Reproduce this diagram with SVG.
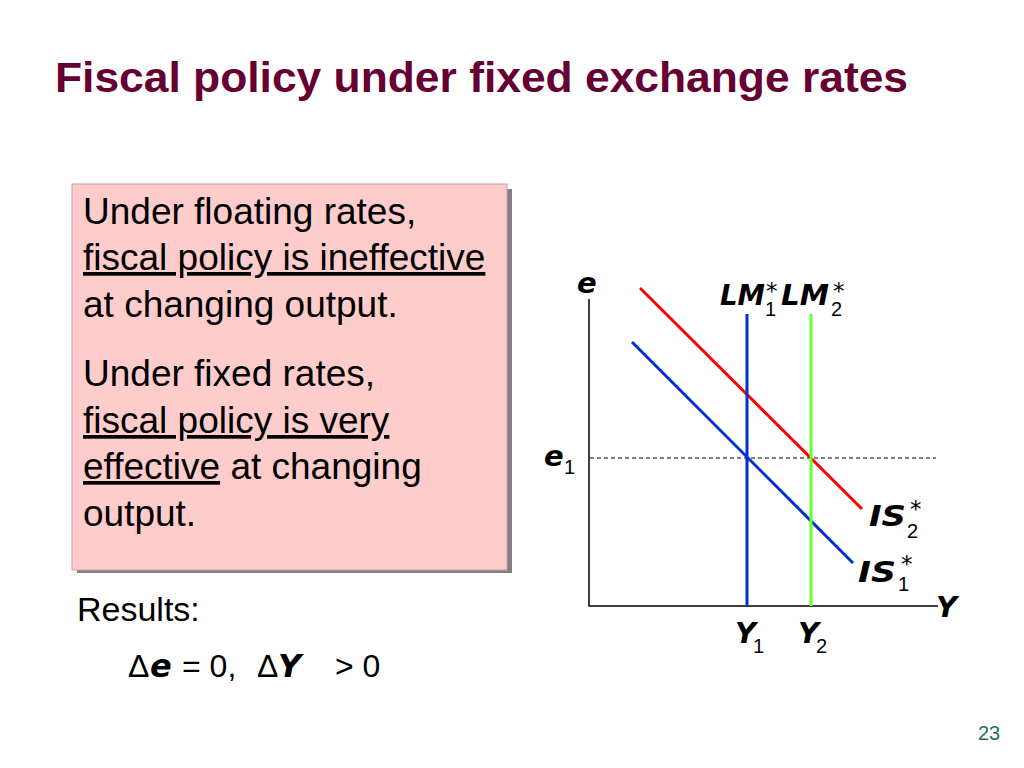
<svg xmlns="http://www.w3.org/2000/svg" width="1024" height="768" viewBox="0 0 1024 768">
<style>
.title{font-family:"Liberation Sans",Arial,sans-serif;font-weight:bold;font-size:42px;fill:#660033}
.body{font-family:"Liberation Sans",Arial,sans-serif;font-size:37px;fill:#000}
.res{font-family:"Liberation Sans",Arial,sans-serif;font-size:32px;fill:#000}
.bi{font-family:"DejaVu Sans",Verdana,sans-serif;font-weight:bold;font-style:italic;font-size:32px}
.u{text-decoration:underline}
.lab{font-family:"DejaVu Sans",Verdana,sans-serif;font-weight:bold;font-style:italic;font-size:29px;fill:#000}
.sub{font-family:"Liberation Sans",Arial,sans-serif;font-size:20px;fill:#000}
.sup{font-family:"DejaVu Sans",Verdana,sans-serif;font-size:23px;fill:#000}
.ax{stroke:#000;stroke-width:1.5;fill:none}
.curve{stroke-width:3;fill:none}
</style>
<rect width="1024" height="768" fill="#fff"/>
<g id="title"><text class="title" x="55" y="92" textLength="853" lengthAdjust="spacingAndGlyphs">Fiscal policy under fixed exchange rates</text></g>
<g id="textbox">
<rect x="77" y="189" width="435" height="384" fill="#808080"/>
<rect x="72" y="184" width="435" height="386" fill="#FFCCCC" stroke="#c8a0a0" stroke-width="1"/>
<text class="body" x="83" y="224">Under floating rates,</text>
<text class="body" x="83" y="270"><tspan class="u">fiscal policy is ineffective</tspan></text>
<text class="body" x="83" y="317">at changing output.</text>
<text class="body" x="83" y="386">Under fixed rates,</text>
<text class="body" x="83" y="433"><tspan class="u">fiscal policy is very</tspan></text>
<text class="body" x="83" y="479"><tspan class="u">effective</tspan> at changing</text>
<text class="body" x="83" y="526">output.</text>
</g>
<g id="results">
<text class="res" x="77" y="621" style="font-size:34px">Results:</text>
<text class="res" x="128" y="677">Δ</text>
<text class="res bi" x="150" y="677">e</text>
<text class="res" x="182" y="677">= 0,</text>
<text class="res" x="257" y="677">Δ</text>
<text class="res bi" x="278" y="677">Y</text>
<text class="res" x="335" y="677">&gt; 0</text>
</g>
<g id="connectors">
<path class="ax" d="M589,299 V606 H938"/>
<line x1="590" y1="458" x2="936" y2="458" stroke="#000" stroke-width="1" stroke-dasharray="4,3"/>
<line class="curve" x1="632" y1="342" x2="853" y2="563" stroke="#0033CC"/>
<line class="curve" x1="640" y1="288" x2="862" y2="509" stroke="#FF0000"/>
<line class="curve" x1="747" y1="314" x2="747" y2="606" stroke="#0033CC"/>
<line class="curve" x1="811" y1="314" x2="811" y2="606" stroke="#66FF33"/>
</g>
<g id="labels">
<text class="lab" x="577" y="293">e</text>
<text class="lab" x="544" y="466">e</text><text class="sub" x="564" y="474">1</text>
<text class="lab" x="720" y="305" textLength="45" lengthAdjust="spacingAndGlyphs">LM</text><text class="sup" x="766" y="299">*</text><text class="sub" x="765" y="316">1</text>
<text class="lab" x="781" y="305" textLength="48" lengthAdjust="spacingAndGlyphs">LM</text><text class="sup" x="833" y="299">*</text><text class="sub" x="831" y="316">2</text>
<text class="lab" x="869" y="526" textLength="37" lengthAdjust="spacingAndGlyphs">IS</text><text class="sup" x="910" y="517">*</text><text class="sub" x="907" y="538">2</text>
<text class="lab" x="858" y="582" textLength="38" lengthAdjust="spacingAndGlyphs">IS</text><text class="sup" x="901" y="572">*</text><text class="sub" x="898" y="591">1</text>
<text class="lab" x="936" y="617">Y</text>
<text class="lab" x="735" y="643">Y</text><text class="sub" x="753" y="653">1</text>
<text class="lab" x="798" y="643">Y</text><text class="sub" x="816" y="653">2</text>
</g>
<g id="pagenum"><text x="978" y="740" font-family="Liberation Sans,Arial,sans-serif" font-size="20" fill="#1F6F5F">23</text></g>
</svg>
